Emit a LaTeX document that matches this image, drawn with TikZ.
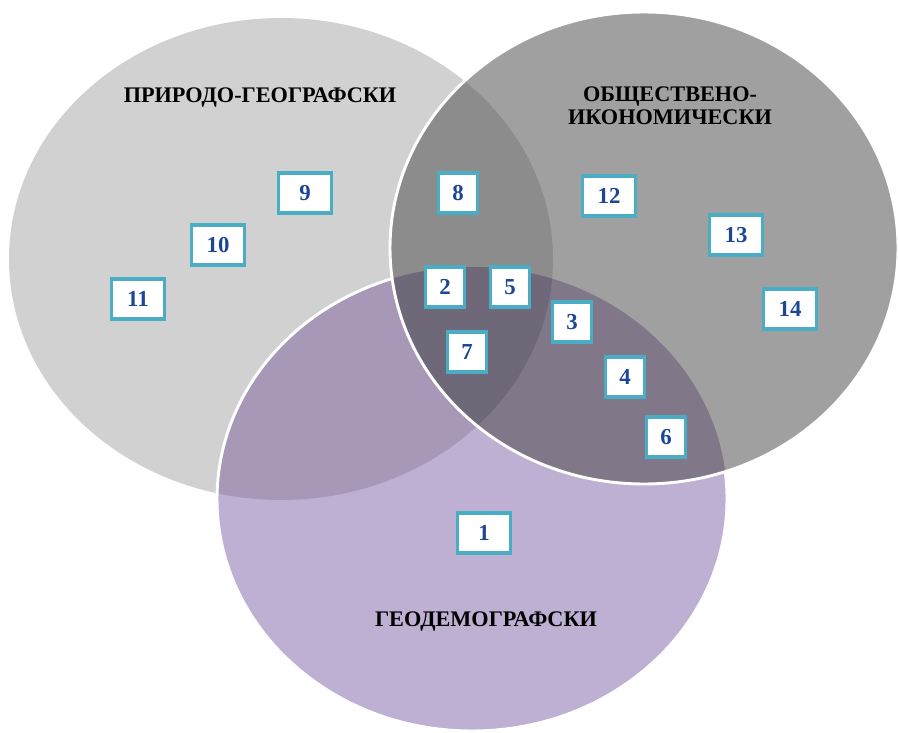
\documentclass[tikz,border=0pt]{standalone}
\usepackage{fontspec}
\setmainfont{Liberation Serif}
\usepackage{tikz}

\definecolor{natgray}{RGB}{209,209,209}
\definecolor{socgray}{RGB}{160,160,160}
\definecolor{demlilac}{RGB}{190,176,210}
\definecolor{natdem}{RGB}{168,152,184}
\definecolor{natsoc}{RGB}{140,140,140}
\definecolor{socdem}{RGB}{128,120,136}
\definecolor{allthree}{RGB}{110,104,120}
\definecolor{boxteal}{RGB}{75,172,198}
\definecolor{digitblue}{RGB}{30,70,150}

\newcommand{\natset}{(281,259) ellipse [x radius=272, y radius=241]}
\newcommand{\socset}{(644,248) ellipse [x radius=254, y radius=236]}
\newcommand{\demset}{(472,499) ellipse [x radius=255, y radius=232]}

\begin{document}
\begin{tikzpicture}[x=0.03cm, y=-0.03cm,
                    numbox/.style={draw=boxteal, line width=3pt, fill=white, text=digitblue, font=\bfseries\fontsize{19.5}{19.5}\selectfont, inner xsep=11.9pt, inner ysep=0pt, minimum height=34.5pt},
                    widebox/.style={numbox, minimum width=45pt},
                    setlabel/.style={font=\bfseries\fontsize{19}{20}\selectfont, align=center},
                    rim/.style={draw=white, line width=2.5pt}
]
\useasboundingbox (0,0) rectangle (898,733);
%
\fill [natgray] \natset;
\fill [demlilac] \demset;
\begin{scope}
\clip \natset;
\fill [natdem] \demset;
\end{scope}
\draw [rim] \demset;
%
\fill [socgray] \socset;
\begin{scope}
\clip \socset;
\fill [natsoc] \natset;
\fill [socdem] \demset;
\clip \natset;
\fill [allthree] \demset;
\end{scope}
\draw [rim] \socset;
%
\node [setlabel] at (260,98) (natural) {ПРИРОДО-ГЕОГРАФСКИ};
\node [setlabel] at (670,106) (social) {ОБЩЕСТВЕНО-\\ИКОНОМИЧЕСКИ};
\node [setlabel] at (486,621) (demo) {ГЕОДЕМОГРАФСКИ};
%
\node [widebox] at (484,533) (n1) {1};
\node [numbox] at (445,287) (n2) {2};
\node [numbox] at (572,322) (n3) {3};
\node [numbox] at (625,377) (n4) {4};
\node [numbox] at (510,287) (n5) {5};
\node [numbox] at (666,437) (n6) {6};
\node [numbox] at (467,352) (n7) {7};
\node [numbox] at (458,193) (n8) {8};
\node [widebox] at (305,193) (n9) {9};
\node [widebox] at (218,245) (n10) {10};
\node [widebox] at (138,299) (n11) {11};
\node [widebox] at (609,196) (n12) {12};
\node [widebox] at (736,235) (n13) {13};
\node [widebox] at (790,309) (n14) {14};
\end{tikzpicture}
\end{document}
